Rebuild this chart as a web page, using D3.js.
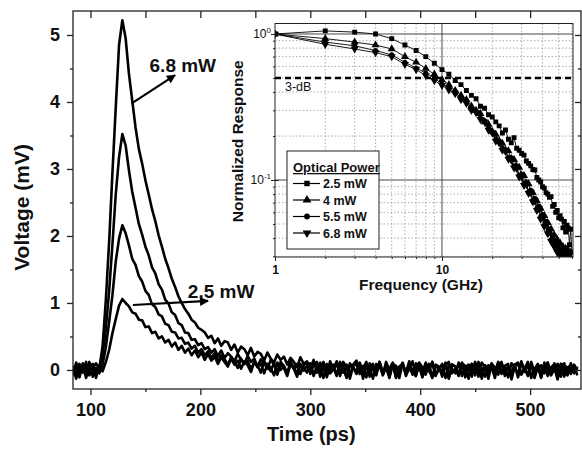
<!DOCTYPE html>
<html><head><meta charset="utf-8">
<script src="https://cdn.jsdelivr.net/npm/d3@7"></script>
<style>
body{margin:0;background:#fff}
svg{display:block;font-family:"Liberation Sans",Arial,sans-serif}
</style>
</head><body>
<svg id="c" width="582" height="453"></svg>
<script>
// ---------- main plot data (time series sampled every 3 ps from 84 ps) ----------
const timeStart = 84, timeStep = 3;
const trace68 = [0.06,-0.10,0.09,-0.04,0.12,-0.08,0.03,0.10,0.02,
0.35,1.05,1.92,2.95,3.92,4.85,5.22,4.95,4.42,4.02,3.62,3.30,3.08,2.83,2.62,2.40,2.22,2.01,1.84,1.66,1.52,1.36,1.24,1.10,1.00,0.91,0.84,0.75,0.71,0.63,0.60,
0.56,0.48,0.51,0.40,0.47,0.36,0.43,0.41,0.30,0.38,0.26,0.35,0.31,0.22,0.33,0.20,0.27,0.24,0.14,0.26,0.17,0.11,0.23,0.15,0.20,0.08,0.18,0.12,0.04,0.19,0.09,0.13,
0.02,0.15,-0.04,0.10,0.07,-0.08,0.13,0.01,0.09,-0.06,
0.12,0.03,-0.09,0.08,0.14,-0.03,0.06,-0.11,0.10,0.04,
-0.05,0.12,-0.08,0.07,0.02,0.11,-0.12,0.05,0.09,-0.04,
0.13,-0.07,0.03,0.10,-0.10,0.06,0.01,0.12,-0.09,0.04,
-0.02,0.11,-0.13,0.08,0.05,-0.06,0.10,-0.11,0.03,0.09,
-0.08,0.12,0.00,-0.10,0.07,0.04,-0.12,0.11,-0.03,0.06,
0.09,-0.14,0.05,0.10,-0.07,0.02,0.12,-0.09,-0.02,0.08,
-0.11,0.06,0.11,-0.05,0.03,-0.13,0.09,0.01,-0.08,0.10,
-0.04,0.05];
const trace55 = [-0.08,0.11,-0.02,0.07,-0.12,0.05,0.09,-0.06,0.04,
0.22,0.62,1.18,1.88,2.62,3.18,3.52,3.35,2.98,2.66,2.42,2.18,2.02,1.84,1.71,1.53,1.44,1.28,1.20,1.05,0.99,0.86,0.82,0.70,0.67,0.56,0.55,0.45,0.46,0.37,0.40,
0.31,0.34,0.26,0.31,0.21,0.29,0.18,0.25,0.20,0.13,0.24,0.15,0.09,0.21,0.12,0.17,0.05,0.16,0.10,0.02,0.15,0.08,-0.03,0.12,0.06,-0.05,0.13,0.02,0.09,-0.06,0.07,0.11,
-0.06,0.08,0.12,-0.10,0.03,0.09,-0.05,0.01,0.13,-0.09,
0.06,-0.12,0.10,0.04,-0.03,0.11,-0.08,0.07,0.02,-0.13,
0.09,0.05,-0.06,0.12,-0.01,0.08,-0.11,0.03,0.10,-0.07,
0.04,0.13,-0.09,0.06,-0.04,0.11,0.00,-0.12,0.08,0.05,
-0.10,0.07,0.12,-0.05,0.02,-0.09,0.10,0.06,-0.13,0.09,
0.01,-0.07,0.11,0.04,-0.10,0.08,-0.02,0.12,-0.06,0.03,
-0.11,0.10,0.05,-0.08,0.13,-0.03,0.07,-0.12,0.02,0.09,
-0.05,0.11,-0.09,0.04,0.08,-0.14,0.06,0.10,-0.04,0.01,
0.07,-0.08];
const trace40 = [0.05,-0.13,0.08,0.02,-0.07,0.12,-0.10,0.03,-0.05,
0.08,0.34,0.72,1.12,1.62,1.96,2.16,2.04,1.86,1.66,1.57,1.40,1.32,1.18,1.12,0.98,0.94,0.83,0.80,0.69,0.67,0.57,0.56,0.47,0.48,0.39,0.41,0.32,0.36,0.26,0.31,
0.22,0.28,0.18,0.25,0.14,0.22,0.16,0.08,0.19,0.12,0.03,0.17,0.09,0.14,0.01,0.12,0.07,-0.04,0.13,0.05,-0.02,0.11,-0.07,0.08,0.03,-0.09,0.10,0.04,-0.05,0.09,-0.01,0.06,
0.10,-0.09,0.05,-0.02,0.12,-0.11,0.07,0.03,-0.08,0.11,
-0.04,0.08,-0.13,0.06,0.09,-0.06,0.02,0.12,-0.10,0.05,
-0.01,0.10,-0.07,0.04,-0.12,0.09,0.06,-0.03,0.11,-0.09,
0.03,-0.06,0.10,0.05,-0.11,0.08,-0.02,0.12,-0.08,0.01,
0.09,-0.12,0.06,0.02,-0.05,0.11,-0.09,0.04,0.08,-0.03,
0.12,-0.10,0.00,0.07,-0.13,0.09,0.04,-0.07,0.10,-0.02,
0.05,-0.11,0.08,0.11,-0.06,0.03,-0.09,0.12,-0.04,0.06,
-0.12,0.08,0.02,-0.07,0.10,-0.03,0.09,-0.10,0.04,0.07,
-0.05,0.03];
const trace25 = [-0.03,0.07,-0.11,0.10,0.01,-0.06,0.08,-0.12,0.06,
-0.02,0.12,0.30,0.55,0.76,0.96,1.06,1.00,0.95,0.86,0.84,0.75,0.74,0.64,0.65,0.55,0.57,0.47,0.50,0.41,0.45,0.35,0.41,0.30,0.36,0.26,0.32,0.22,0.29,0.19,0.26,
0.15,0.24,0.14,0.20,0.09,0.19,0.12,0.05,0.17,0.08,0.14,0.02,0.13,0.07,-0.03,0.12,0.04,0.10,-0.05,0.09,0.03,-0.08,0.11,0.00,0.06,-0.07,0.09,0.02,-0.10,0.08,0.04,-0.04,
0.09,-0.07,0.03,0.11,-0.12,0.05,-0.02,0.08,-0.09,0.12,
0.02,-0.11,0.07,0.04,-0.06,0.10,-0.13,0.06,0.01,0.09,
-0.08,0.12,-0.03,0.05,-0.10,0.08,0.03,-0.12,0.10,-0.05,
0.07,0.00,-0.09,0.11,0.04,-0.07,0.09,-0.11,0.06,0.02,
-0.04,0.10,-0.12,0.08,0.05,-0.08,0.11,-0.02,0.04,-0.10,
0.09,0.06,-0.13,0.07,-0.01,0.10,-0.06,0.03,0.12,-0.09,
0.05,-0.03,0.08,-0.11,0.10,0.02,-0.07,0.09,-0.12,0.04,
0.07,-0.05,0.11,-0.08,0.01,0.09,-0.10,0.06,0.03,-0.06,
0.08,-0.02];
const timeTicks = [100,200,300,400,500];
const timeMinorTicks = [150,250,350,450];
const voltTicks = [0,1,2,3,4,5];
const voltMinorTicks = [0.5,1.5,2.5,3.5,4.5];

// ---------- inset data (normalized response vs frequency) ----------
const freqGHz = [1,2,3,4,5,6,7,8,9,10,11,12,13,14,15,16,17,18,19,20,21,22,23,24,25,26,27,28,29,30,
31,32,33,34,35,36,37,38,39,40,41,42,43,44,45,46,47,48,49,50,51,52,53,54,55,56,57,58,59,60];
const resp25 = [1.00,1.05,1.03,1.00,0.93,0.84,0.77,0.70,0.63,0.57,
0.53,0.48,0.45,0.41,0.38,0.36,0.32,0.31,0.28,0.27,
0.25,0.235,0.21,0.22,0.19,0.18,0.195,0.165,0.16,0.152,
0.148,0.135,0.13,0.125,0.118,0.117,0.104,0.10,0.097,0.09,
0.088,0.082,0.08,0.076,0.077,0.066,0.068,0.06,0.062,0.055,
0.057,0.054,0.047,0.052,0.044,0.049,0.047,0.036,0.046,0.032];
const resp40 = [1.00,0.93,0.88,0.84,0.79,0.70,0.64,0.58,0.53,0.485,
0.45,0.41,0.38,0.355,0.32,0.30,0.285,0.25,0.24,0.215,
0.205,0.185,0.178,0.16,0.158,0.14,0.138,0.124,0.122,0.108,
0.107,0.095,0.094,0.083,0.082,0.072,0.072,0.063,0.064,0.055,
0.057,0.049,0.051,0.044,0.046,0.040,0.042,0.036,0.039,0.034,
0.037,0.032,0.035,0.030,0.034,0.029,0.033,0.028,0.032,0.027];
const resp55 = [1.00,0.88,0.83,0.77,0.72,0.64,0.585,0.54,0.50,0.455,
0.43,0.40,0.365,0.345,0.31,0.295,0.265,0.255,0.225,0.215,
0.19,0.185,0.165,0.162,0.143,0.142,0.125,0.124,0.108,0.109,
0.095,0.096,0.083,0.085,0.073,0.075,0.064,0.066,0.056,0.058,
0.049,0.052,0.044,0.046,0.039,0.042,0.036,0.038,0.033,0.036,
0.031,0.034,0.029,0.033,0.028,0.031,0.027,0.030,0.026,0.029];
const resp68 = [1.00,0.85,0.79,0.745,0.70,0.62,0.57,0.52,0.48,0.445,
0.415,0.39,0.355,0.335,0.30,0.29,0.26,0.25,0.22,0.21,
0.185,0.18,0.16,0.157,0.139,0.137,0.121,0.12,0.105,0.105,
0.092,0.093,0.081,0.082,0.071,0.072,0.062,0.064,0.054,0.056,
0.048,0.05,0.043,0.045,0.038,0.041,0.035,0.037,0.032,0.035,
0.03,0.033,0.028,0.032,0.027,0.03,0.026,0.029,0.025,0.028];
const seriesNames = ["2.5 mW","4 mW","5.5 mW","6.8 mW"];
const freqMajorTicks = [1,10];
const freqMinorTicks = [2,3,4,5,6,7,8,9,20,30,40,50,60];
const respMajorTicks = [0.1,1];
const respMinorTicks = [0.03,0.04,0.05,0.06,0.07,0.08,0.09,0.2,0.3,0.4,0.5,0.6,0.7,0.8,0.9];
const threeDB = 0.5;

// ---------- drawing ----------
const svg = d3.select("#c");
const M = {left:73, right:581, top:11, bottom:389};
const x = d3.scaleLinear().domain([84.1, 546.3]).range([M.left, M.right]);
const y = d3.scaleLinear().domain([-0.284, 5.358]).range([M.bottom, M.top]);

const defs = svg.append("defs");
defs.append("clipPath").attr("id","mainclip")
  .append("rect").attr("x",M.left).attr("y",M.top).attr("width",M.right-M.left).attr("height",M.bottom-M.top);

const line = d3.line().x((d,i)=>x(timeStart+i*timeStep)).y(d=>y(d));
const gT = svg.append("g").attr("clip-path","url(#mainclip)");
[trace25,trace40,trace55,trace68].forEach(tr=>{
  gT.append("path").datum(tr).attr("d",line).attr("fill","none")
    .attr("stroke","#000").attr("stroke-width",2.6).attr("stroke-linejoin","round");
});

// frame
svg.append("rect").attr("x",M.left).attr("y",M.top).attr("width",M.right-M.left).attr("height",M.bottom-M.top)
  .attr("fill","none").attr("stroke","#222").attr("stroke-width",1.3);

const tickFont = "bold 18px 'Liberation Sans', Arial, sans-serif";
function styleAxis(g){ g.select(".domain").remove(); g.selectAll("line").attr("stroke","#222").attr("stroke-width",1.3); }
// bottom
svg.append("g").attr("transform",`translate(0,${M.bottom})`)
  .call(d3.axisBottom(x).tickValues(timeTicks).tickSize(6).tickPadding(8).tickFormat(d3.format("d")))
  .call(styleAxis).selectAll("text").style("font",tickFont).attr("fill","#111");
svg.append("g").attr("transform",`translate(0,${M.bottom})`)
  .call(d3.axisBottom(x).tickValues(timeMinorTicks).tickSize(3).tickFormat(""))
  .call(styleAxis);
// top (inward)
svg.append("g").attr("transform",`translate(0,${M.top})`)
  .call(d3.axisBottom(x).tickValues(timeTicks.concat(timeMinorTicks)).tickSize(7).tickFormat(""))
  .call(styleAxis);
// left
svg.append("g").attr("transform",`translate(${M.left},0)`)
  .call(d3.axisLeft(y).tickValues(voltTicks).tickSize(6).tickPadding(7).tickFormat(d3.format("d")))
  .call(styleAxis).selectAll("text").style("font",tickFont).attr("fill","#111");
svg.append("g").attr("transform",`translate(${M.left},0)`)
  .call(d3.axisLeft(y).tickValues(voltMinorTicks).tickSize(3).tickFormat(""))
  .call(styleAxis);
// right (inward)
svg.append("g").attr("transform",`translate(${M.right},0)`)
  .call(d3.axisLeft(y).tickValues(voltTicks).tickSize(6).tickFormat(""))
  .call(styleAxis);
svg.append("g").attr("transform",`translate(${M.right},0)`)
  .call(d3.axisLeft(y).tickValues(voltMinorTicks).tickSize(3).tickFormat(""))
  .call(styleAxis);

// axis titles
svg.append("text").attr("x",(x(100)+x(500))/2+1).attr("y",441).attr("text-anchor","middle")
  .style("font","bold 20px 'Liberation Sans', Arial, sans-serif").attr("fill","#111").text("Time (ps)");
svg.append("text").attr("transform",`translate(29,${(y(0)+y(5))/2+5}) rotate(-90)`).attr("text-anchor","middle")
  .style("font","bold 21px 'Liberation Sans', Arial, sans-serif").attr("fill","#111").text("Voltage (mV)");

// annotations
defs.append("marker").attr("id","arr").attr("viewBox","0 0 10 10").attr("refX",9).attr("refY",5)
  .attr("markerWidth",11).attr("markerHeight",9).attr("markerUnits","userSpaceOnUse").attr("orient","auto")
  .append("path").attr("d","M0,0 L10,5 L0,10 Z").attr("fill","#000");
const annFont = "bold 19px 'Liberation Sans', Arial, sans-serif";
svg.append("line").attr("x1",x(137.5)).attr("y1",y(3.98)).attr("x2",x(177)).attr("y2",y(4.40))
  .attr("stroke","#000").attr("stroke-width",2.2).attr("marker-end","url(#arr)");
svg.append("text").attr("x",x(184)).attr("y",y(4.45)).attr("text-anchor","middle")
  .style("font",annFont).attr("fill","#111").text("6.8 mW");
svg.append("line").attr("x1",x(138.6)).attr("y1",y(0.97)).attr("x2",x(207)).attr("y2",y(1.03))
  .attr("stroke","#000").attr("stroke-width",2.2).attr("marker-end","url(#arr)");
svg.append("text").attr("x",x(188.6)).attr("y",y(1.07)).attr("text-anchor","start")
  .style("font",annFont).attr("fill","#111").text("2.5 mW");

// ---------- inset ----------
const I = {left:275, right:573, top:23.5, bottom:257};
const ix = d3.scaleLog().domain([1, 60.9]).range([I.left, I.right]);
const iy = d3.scaleLog().domain([0.0297, 1.18]).range([I.bottom, I.top]);
svg.append("rect").attr("x",I.left).attr("y",I.top).attr("width",I.right-I.left).attr("height",I.bottom-I.top).attr("fill","#fff");
defs.append("clipPath").attr("id","insclip").append("rect")
  .attr("x",I.left).attr("y",I.top).attr("width",I.right-I.left).attr("height",I.bottom-I.top);

const gi = svg.append("g");
// minor grid
freqMinorTicks.forEach(f=>gi.append("line").attr("x1",ix(f)).attr("x2",ix(f)).attr("y1",I.top).attr("y2",I.bottom)
  .attr("stroke","#999").attr("stroke-width",0.8).attr("stroke-dasharray","1.5,2"));
respMinorTicks.forEach(v=>gi.append("line").attr("y1",iy(v)).attr("y2",iy(v)).attr("x1",I.left).attr("x2",I.right)
  .attr("stroke","#999").attr("stroke-width",0.8).attr("stroke-dasharray","1.5,2"));
// major grid
[10].forEach(f=>gi.append("line").attr("x1",ix(f)).attr("x2",ix(f)).attr("y1",I.top).attr("y2",I.bottom)
  .attr("stroke","#333").attr("stroke-width",0.9));
respMajorTicks.forEach(v=>gi.append("line").attr("y1",iy(v)).attr("y2",iy(v)).attr("x1",I.left).attr("x2",I.right)
  .attr("stroke","#333").attr("stroke-width",0.9));

// 3-dB line
gi.append("line").attr("x1",I.left).attr("x2",I.right).attr("y1",iy(threeDB)).attr("y2",iy(threeDB))
  .attr("stroke","#000").attr("stroke-width",2.6).attr("stroke-dasharray","6,4");
gi.append("text").attr("x",I.left+10).attr("y",iy(threeDB)+13.5)
  .style("font","12.5px 'Liberation Sans', Arial, sans-serif").attr("fill","#111").text("3-dB");

// series
const symTypes = [d3.symbolSquare, d3.symbolTriangle, d3.symbolCircle, d3.symbolTriangle];
const symSizes = [24, 28, 20, 28];
const symRot = [0,0,0,180];
const allResp = [resp25, resp40, resp55, resp68];
const gs = svg.append("g").attr("clip-path","url(#insclip)");
const iline = d3.line().x((d,i)=>ix(freqGHz[i])).y(d=>iy(d));
[3,2,1,0].forEach(k=>{
  gs.append("path").datum(allResp[k]).attr("d",iline).attr("fill","none").attr("stroke","#000").attr("stroke-width",0.9);
  gs.selectAll(null).data(allResp[k]).enter().append("path")
    .attr("d",d3.symbol().type(symTypes[k]).size(symSizes[k]))
    .attr("transform",(d,i)=>`translate(${ix(freqGHz[i])},${iy(d)}) rotate(${symRot[k]})`)
    .attr("fill","#000");
});

// inset frame
svg.append("rect").attr("x",I.left).attr("y",I.top).attr("width",I.right-I.left).attr("height",I.bottom-I.top)
  .attr("fill","none").attr("stroke","#222").attr("stroke-width",1);
function styleI(g){ g.select(".domain").remove(); g.selectAll("line").attr("stroke","#222").attr("stroke-width",1); }
// inset bottom axis
svg.append("g").attr("transform",`translate(0,${I.bottom})`)
  .call(d3.axisBottom(ix).tickValues(freqMajorTicks).tickSize(4).tickPadding(4).tickFormat(d3.format("d")))
  .call(styleI).selectAll("text").style("font","bold 12px 'Liberation Sans', Arial, sans-serif").attr("fill","#111");
svg.append("g").attr("transform",`translate(0,${I.bottom})`)
  .call(d3.axisBottom(ix).tickValues(freqMinorTicks).tickSize(2).tickFormat(""))
  .call(styleI);
// inset left axis
const gl = svg.append("g").attr("transform",`translate(${I.left},0)`)
  .call(d3.axisLeft(iy).tickValues(respMajorTicks).tickSize(4).tickPadding(3).tickFormat(""))
  .call(styleI);
gl.selectAll(".tick line").attr("x2",4).attr("x1",-4);
svg.append("g").attr("transform",`translate(${I.left},0)`)
  .call(d3.axisLeft(iy).tickValues(respMinorTicks).tickSize(2).tickFormat(""))
  .call(styleI);
respMajorTicks.forEach(v=>{
  const t = svg.append("text").attr("x",I.left-4).attr("y",iy(v)+4).attr("text-anchor","end")
    .style("font","12px 'Liberation Sans', Arial, sans-serif").attr("fill","#111");
  t.append("tspan").text("10");
  t.append("tspan").attr("dy",-5).style("font-size","8px").text(String(Math.round(Math.log10(v))));
});
svg.append("text").attr("x",(I.left+I.right)/2-3).attr("y",290).attr("text-anchor","middle")
  .style("font","bold 15.5px 'Liberation Sans', Arial, sans-serif").attr("fill","#111").text("Frequency (GHz)");
svg.append("text").attr("transform",`translate(243,${(I.top+I.bottom)/2+1}) rotate(-90)`).attr("text-anchor","middle")
  .style("font","bold 15.5px 'Liberation Sans', Arial, sans-serif").attr("fill","#111").text("Normalized Response");

// legend
const L = {x:287, y:151, w:92, h:98};
const gL = svg.append("g");
gL.append("rect").attr("x",L.x).attr("y",L.y).attr("width",L.w).attr("height",L.h)
  .attr("fill","#fff").attr("stroke","#222").attr("stroke-width",1);
gL.append("text").attr("x",L.x+6).attr("y",L.y+21).style("font","bold 13px 'Liberation Sans', Arial, sans-serif")
  .attr("fill","#111").attr("text-decoration","underline").text("Optical Power");
seriesNames.forEach((n,k)=>{
  const yy = L.y+32.5+k*16.5;
  gL.append("line").attr("x1",L.x+6).attr("x2",L.x+33).attr("y1",yy).attr("y2",yy).attr("stroke","#000").attr("stroke-width",1.2);
  gL.append("path").attr("d",d3.symbol().type(symTypes[k]).size(symSizes[k]+6)())
    .attr("transform",`translate(${L.x+20},${yy}) rotate(${symRot[k]})`).attr("fill","#000");
  gL.append("text").attr("x",L.x+36).attr("y",yy+4.5).style("font","bold 12.5px 'Liberation Sans', Arial, sans-serif")
    .attr("fill","#111").text(n);
});
</script>
</body></html>
